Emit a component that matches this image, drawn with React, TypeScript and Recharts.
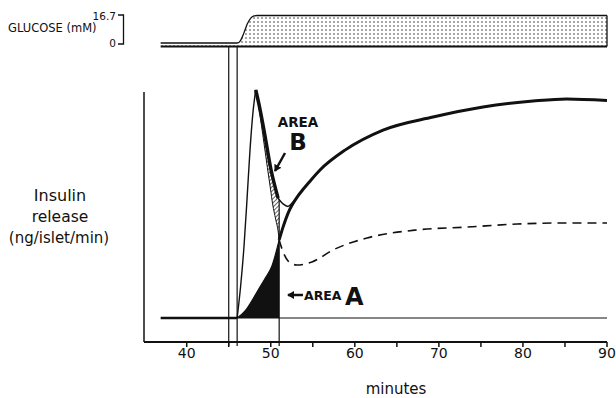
import { ComposedChart, Line, Area, XAxis, YAxis, ReferenceLine } from 'recharts';

// minutes on x, insulin in arbitrary units, glucose in mM
const minuteTicks = [40, 45, 50, 55, 60, 65, 70, 75, 80, 85, 90];

const glucose: [number, number][] = [
  [36.9, 0], [46, 0], [46.4, 1.5], [46.8, 6], [47.2, 11.5], [47.6, 15], [48, 16.4], [48.4, 16.7], [90, 16.7],
];
const glucoseFloor: [number, number][] = [[36.9, -2.1], [90, -2.1]];

const baselineBefore: [number, number][] = [[36.9, 0], [46, 0]];
const baselineAfter: [number, number][] = [[46, 0], [90, 0]];

// first phase spike
const spikeRise: [number, number][] = [[46, 0], [46.4, 1.4], [46.82, 3.3], [47.2, 5.6], [47.53, 7.7], [47.9, 9.5], [48.21, 10.46]];
const spikeFall: [number, number][] = [[48.21, 10.46], [48.6, 9.8], [49.2, 8.6], [50.03, 6.8], [50.87, 5.5]];
const spikeTail: [number, number][] = [[50.87, 5.5], [51.5, 5.22], [52.05, 5.12], [52.6, 5.3], [53.24, 5.6], [53.8, 5.88]];

// second phase
const secondEarly: [number, number][] = [[46, 0], [47, 0.35], [48, 0.95], [48.5, 1.28], [49.3, 1.8], [50.15, 2.4], [51, 3.58]];
const secondLate: [number, number][] = [
  [51, 3.58], [51.46, 4.17], [52.05, 4.8], [53.24, 5.6], [53.8, 5.88], [54.5, 6.2], [55.86, 6.79], [58.83, 7.7],
  [63.36, 8.62], [69.3, 9.22], [75.25, 9.68], [81.2, 9.95], [85.2, 10.05], [90, 9.98],
];

const dashedCurve: [number, number][] = [
  [51, 3.58], [51.4, 3.1], [52.1, 2.6], [53.1, 2.43], [54.9, 2.57], [57.4, 3.12], [61.45, 3.67],
  [67.4, 4.04], [73.35, 4.17], [79.3, 4.31], [85.25, 4.36], [90, 4.36],
];

// area B band: [minute, low, high]
const areaBBand: [number, number, number][] = [
  [48.21, 10.46, 10.46], [48.6, 9.6, 9.8], [49.2, 8.0, 8.6], [49.6, 6.9, 7.9], [50.03, 5.75, 6.8],
  [50.15, 5.41, 6.6], [50.6, 4.5, 5.85], [50.87, 4.0, 5.5], [51, 3.58, 5.45],
];

const pts = (a: [number, number][]) => a.map(([m, v]) => ({ m, v }));
const band = areaBBand.map(([m, lo, hi]) => ({ m, band: [lo, hi] }));

const INS_DOMAIN: [number, number] = [-1.101, 14.128];
const GLU_DOMAIN: [number, number] = [-181.54, 20.04];
const X_DOMAIN: [number, number] = [34.92, 90];

const font = '"DejaVu Sans", sans-serif';

export default function App() {
  const line = (key: string, data: [number, number][], width: number, axis = 'ins', dash?: string) => (
    <Line
      key={key}
      data={pts(data)}
      dataKey="v"
      yAxisId={axis}
      type="monotone"
      stroke="#111"
      strokeWidth={width}
      strokeDasharray={dash}
      dot={false}
      activeDot={false}
      isAnimationActive={false}
    />
  );

  return (
    <div style={{ position: 'absolute', left: 0, top: 0, width: 616, height: 398, background: '#fff' }}>
      <ComposedChart width={616} height={398} margin={{ top: 10, right: 9, left: 144, bottom: 26 }}>
        <defs>
          <pattern id="dots" width="4" height="4" patternUnits="userSpaceOnUse">
            <rect width="4" height="4" fill="#fff" />
            <circle cx="2" cy="2" r="0.75" fill="#222" />
          </pattern>
          <pattern id="hatch" width="3" height="3" patternUnits="userSpaceOnUse" patternTransform="rotate(45)">
            <rect width="3" height="3" fill="#fff" />
            <line x1="0" y1="0" x2="0" y2="3" stroke="#111" strokeWidth="1.3" />
          </pattern>
        </defs>
        <XAxis
          type="number"
          dataKey="m"
          domain={X_DOMAIN}
          allowDataOverflow
          ticks={minuteTicks}
          tickFormatter={(v: number) => (v % 10 === 0 ? String(v) : '')}
          tickSize={5}
          tickMargin={1}
          height={30}
          axisLine={{ stroke: '#111', strokeWidth: 2 }}
          tickLine={{ stroke: '#111', strokeWidth: 1.5 }}
          tick={{ fill: '#111', fontSize: 14, fontFamily: font }}
        />
        <YAxis yAxisId="ins" type="number" hide domain={INS_DOMAIN} allowDataOverflow />
        <YAxis yAxisId="glu" type="number" hide domain={GLU_DOMAIN} allowDataOverflow />

        <Area
          data={pts(glucose)}
          dataKey="v"
          yAxisId="glu"
          type="monotone"
          baseValue={-2.1}
          stroke="#111"
          strokeWidth={1.3}
          fill="url(#dots)"
          fillOpacity={1}
          dot={false}
          activeDot={false}
          isAnimationActive={false}
        />
        {line('gluFloor', glucoseFloor, 2, 'glu')}
        <ReferenceLine yAxisId="glu" segment={[{ x: 90, y: -2.1 }, { x: 90, y: 16.7 }]} stroke="#111" strokeWidth={1.3} ifOverflow="visible" />

        <Area
          data={pts(secondEarly)}
          dataKey="v"
          yAxisId="ins"
          type="monotone"
          baseValue={0}
          stroke="none"
          fill="#111"
          fillOpacity={1}
          dot={false}
          activeDot={false}
          isAnimationActive={false}
        />
        <Area
          data={band}
          dataKey="band"
          yAxisId="ins"
          type="monotone"
          stroke="#111"
          strokeWidth={1}
          fill="url(#hatch)"
          fillOpacity={1}
          dot={false}
          activeDot={false}
          isAnimationActive={false}
        />

        <ReferenceLine yAxisId="ins" segment={[{ x: 45, y: 12.45 }, { x: 45, y: -1.284 }]} stroke="#111" strokeWidth={1.2} ifOverflow="visible" />
        <ReferenceLine yAxisId="ins" segment={[{ x: 46, y: 12.45 }, { x: 46, y: -1.284 }]} stroke="#111" strokeWidth={1.2} ifOverflow="visible" />
        <ReferenceLine yAxisId="ins" segment={[{ x: 51, y: 5.45 }, { x: 51, y: -1.284 }]} stroke="#111" strokeWidth={1.2} ifOverflow="visible" />
        <ReferenceLine yAxisId="ins" segment={[{ x: 34.92, y: 10.37 }, { x: 34.92, y: -1.101 }]} stroke="#111" strokeWidth={1.5} ifOverflow="visible" />

        {line('baseBefore', baselineBefore, 2.5)}
        {line('baseAfter', baselineAfter, 1.2)}
        {line('secondEarly', secondEarly, 1.2)}
        {line('secondLate', secondLate, 3)}
        {line('spikeRise', spikeRise, 1.4)}
        {line('spikeFall', spikeFall, 3.5)}
        {line('spikeTail', spikeTail, 1.5)}
        {line('dashed', dashedCurve, 1.6, 'ins', '9 6')}
      </ComposedChart>

      <svg width={616} height={398} style={{ position: 'absolute', left: 0, top: 0, pointerEvents: 'none' }} fontFamily={font} fill="#111">
        <defs>
          <marker id="arrowHead" markerWidth="8" markerHeight="8" refX="6" refY="4" orient="auto" markerUnits="userSpaceOnUse">
            <path d="M0,0 L7,4 L0,8 z" fill="#111" />
          </marker>
        </defs>
        <text x={8} y={32} fontSize={11.5}>GLUCOSE (mM)</text>
        <text x={116} y={19.5} fontSize={10.5} textAnchor="end">16.7</text>
        <text x={116} y={47} fontSize={10.5} textAnchor="end">0</text>
        <path d="M118 15 H123.5 V44 H118" stroke="#111" strokeWidth={1.3} fill="none" />

        <text x={60} y={201} fontSize={16} textAnchor="middle">Insulin</text>
        <text x={60} y={222} fontSize={15.5} textAnchor="middle">release</text>
        <text x={59} y={243} fontSize={15} textAnchor="middle">(ng/islet/min)</text>

        <text x={396} y={394} fontSize={15} textAnchor="middle">minutes</text>

        <text x={298} y={127} fontSize={13.5} fontWeight="bold" textAnchor="middle">AREA</text>
        <text x={298} y={150} fontSize={23} fontWeight="bold" textAnchor="middle">B</text>
        <line x1={285} y1={153} x2={275} y2={171} stroke="#111" strokeWidth={2.5} markerEnd="url(#arrowHead)" />

        <line x1={303} y1={295} x2={288} y2={295} stroke="#111" strokeWidth={2.5} markerEnd="url(#arrowHead)" />
        <text x={304} y={300} fontSize={12.5} fontWeight="bold">AREA</text>
        <text x={345} y={305} fontSize={24} fontWeight="bold">A</text>
      </svg>
    </div>
  );
}
